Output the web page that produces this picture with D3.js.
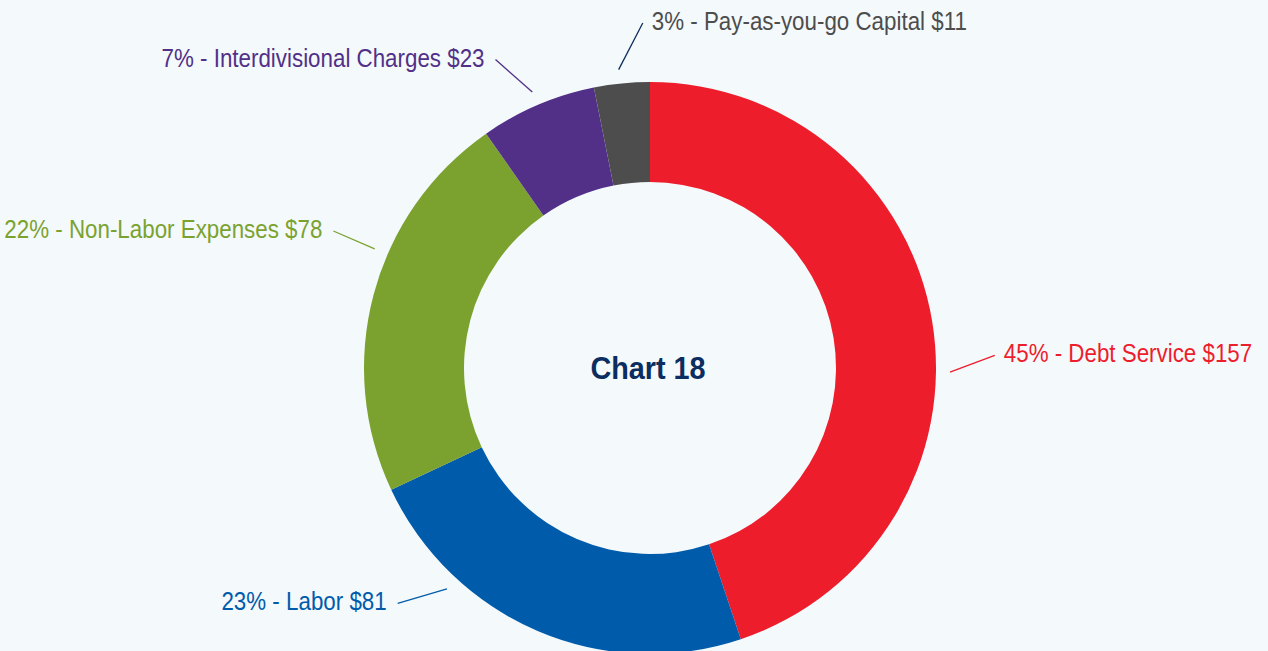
<!DOCTYPE html>
<html>
<head>
<meta charset="utf-8">
<title>Chart 18</title>
<script src="https://cdnjs.cloudflare.com/ajax/libs/d3/7.8.5/d3.min.js"></script>
<style>
html, body {
  margin: 0;
  padding: 0;
  background: #F4F9FC;
}
svg {
  display: block;
  font-family: "Liberation Sans", Arial, sans-serif;
}
.label {
  font-size: 26px;
}
.title {
  font-size: 32px;
  font-weight: bold;
  fill: #0B2D5F;
}
</style>
</head>
<body>
<svg id="vis" width="1268" height="651"></svg>
<script>
// data
var categories = ["Debt Service", "Labor", "Non-Labor Expenses", "Interdivisional Charges", "Pay-as-you-go Capital"];
var amounts    = [157, 81, 78, 23, 11];
var percents   = [45, 23, 22, 7, 3];
var colors     = ["#EE1D2C", "#005BAA", "#7BA22F", "#523087", "#4D4D4D"];
var lineColors = ["#EE1D2C", "#005BAA", "#7BA22F", "#523087", "#0E2E5C"];

// leader line angles in degrees (clockwise from top): [near the ring, at the label]
var leaderAngles = [[90.8, 87.9], [222.6, 227], [293.4, 293.4], [336.9, 333.4], [354, 358.8]];

var svg = d3.select("#vis");
var cx = 650, cy = 368;
var outerR = 286, innerR = 186;
var lineR0 = 300, lineR1 = 345;
var squeeze = 0.86; // condensed look

var g = svg.append("g").attr("transform", `translate(${cx},${cy})`);

var data = categories.map((c, i) => ({name: c, value: amounts[i], pct: percents[i], color: colors[i], line: lineColors[i], ang: leaderAngles[i]}));

var pie = d3.pie().sort(null).value(d => d.value);
var arc = d3.arc().innerRadius(innerR).outerRadius(outerR);

g.selectAll(".slice")
  .data(pie(data))
  .enter().append("path")
    .attr("class", "slice")
    .attr("d", arc)
    .style("fill", d => d.data.color);

function polar(r, deg) {
  var a = deg * Math.PI / 180;
  return [r * Math.sin(a), -r * Math.cos(a)];
}

// left side labels end at the line, right side (and top one) start at it
function onLeft(d) {
  return d.ang[1] > 180 && d.ang[1] < 350;
}

g.selectAll(".leader")
  .data(data)
  .enter().append("line")
    .attr("class", "leader")
    .attr("x1", d => polar(lineR0, d.ang[0])[0])
    .attr("y1", d => polar(lineR0, d.ang[0])[1])
    .attr("x2", d => polar(lineR1, d.ang[1])[0])
    .attr("y2", d => polar(lineR1, d.ang[1])[1])
    .style("stroke", d => d.line)
    .style("stroke-width", 1.3);

g.selectAll(".label")
  .data(data)
  .enter().append("text")
    .attr("class", "label")
    .attr("transform", d => {
      var p = polar(lineR1, d.ang[1]);
      var x = onLeft(d) ? p[0] - 11 : p[0] + 9;
      return `translate(${x},${p[1] - 2}) scale(${squeeze},1)`;
    })
    .attr("dy", "0.35em")
    .style("text-anchor", d => onLeft(d) ? "end" : "start")
    .style("fill", d => d.color)
    .text(d => `${d.pct}% - ${d.name} $${d.value}`);

g.append("text")
  .attr("class", "title")
  .attr("transform", "translate(-2,0) scale(0.9,1)")
  .attr("dy", "0.35em")
  .style("text-anchor", "middle")
  .text("Chart 18");
</script>
</body>
</html>
